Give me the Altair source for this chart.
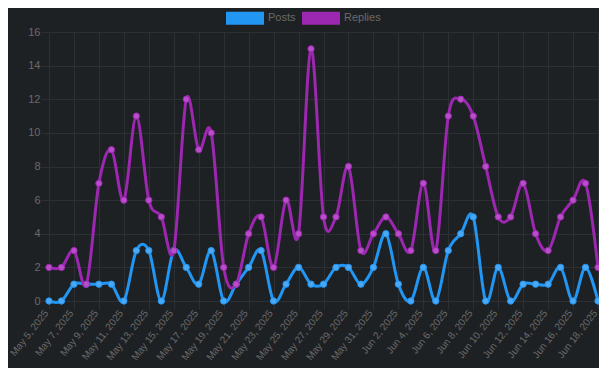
import altair as alt
import pandas as pd
import datetime as dt

# ---- data -------------------------------------------------------------
start = dt.date(2025, 5, 5)
n_days = 45
dates = [start + dt.timedelta(days=i) for i in range(n_days)]
date_labels = [f"{d.strftime('%b')} {d.day}, {d.year}" for d in dates]

posts = [0, 0, 1, 1, 1, 1, 0, 3, 3, 0, 3, 2, 1, 3, 0,
         1, 2, 3, 0, 1, 2, 1, 1, 2, 2, 1, 2, 4, 1,
         0, 2, 0, 3, 4, 5, 0, 2, 0, 1, 1, 1, 2, 0, 2, 0]
replies = [2, 2, 3, 1, 7, 9, 6, 11, 6, 5, 3, 12, 9, 10, 2,
           1, 4, 5, 2, 6, 4, 15, 5, 5, 8, 3, 4, 5, 4,
           3, 7, 3, 11, 12, 11, 8, 5, 5, 7, 4, 3, 5, 6, 7, 2]

series_names = ["Posts", "Replies"]
line_colors = ["#2196f3", "#9c27b0"]
point_fills = ["#4aa8f5", "#b84fc9"]
tick_labels = date_labels[::2]
y_ticks = list(range(0, 17, 2))

rows = []
for lab, p, r in zip(date_labels, posts, replies):
    rows.append({"day": lab, "series": "Posts", "value": p})
    rows.append({"day": lab, "series": "Replies", "value": r})
df = pd.DataFrame(rows)

# ---- styling ----------------------------------------------------------
BG = "#1e2124"
GRID = "#2c2f33"
TEXT = "#6a6a6a"
FONT = "Liberation Sans"
FS = 11

x_enc = alt.X(
    "day:O",
    sort=date_labels,
    scale=alt.Scale(type="point", padding=0),
    axis=alt.Axis(
        title=None,
        values=tick_labels,
        labelAngle=-52,
        labelAlign="right",
        labelBaseline="middle",
        labelPadding=2,
        labelOffset=-3,
        labelFontSize=10,
        labelColor=TEXT,
        labelFont=FONT,
        grid=True,
        gridColor=GRID,
        tickColor=GRID,
        tickSize=8,
        domainColor=GRID,
    ),
)
y_enc = alt.Y(
    "value:Q",
    scale=alt.Scale(domain=[0, 16], nice=False),
    axis=alt.Axis(
        title=None,
        values=y_ticks,
        labelFontSize=FS,
        labelColor=TEXT,
        labelFont=FONT,
        labelPadding=1,
        grid=True,
        gridColor=GRID,
        tickColor=GRID,
        tickSize=8,
        domainColor=GRID,
    ),
)

layers = []
for name, lc, pf in zip(series_names, line_colors, point_fills):
    base = alt.Chart(df).transform_filter(alt.datum.series == name)
    layers.append(
        base.mark_line(interpolate="cardinal", strokeWidth=3, color=lc).encode(x=x_enc, y=y_enc)
    )
for name, lc, pf in zip(series_names, line_colors, point_fills):
    base = alt.Chart(df).transform_filter(alt.datum.series == name)
    layers.append(
        base.mark_point(filled=True, size=40, strokeWidth=1, opacity=1, fill=pf, stroke=lc).encode(
            x=x_enc, y=y_enc
        )
    )

# invisible layer only used to produce the box legend
legend_layer = alt.Chart(df).mark_point(filled=True, size=0).encode(
    x=x_enc,
    y=y_enc,
    color=alt.Color(
        "series:N",
        sort=series_names,
        scale=alt.Scale(domain=series_names, range=line_colors),
        legend=alt.Legend(
            title=None,
            orient="none",
            legendX=177,
            legendY=-33,
            direction="horizontal",
            symbolType="M-1,-0.34L1,-0.34L1,0.34L-1,0.34Z",
            symbolSize=1444,
            symbolStrokeWidth=0,
            symbolOpacity=1,
            labelColor=TEXT,
            labelFont=FONT,
            labelFontSize=FS,
            labelOffset=4,
            columnPadding=6,
            padding=0,
        ),
    ),
)
layers.append(legend_layer)

chart = (
    alt.layer(*layers)
    .properties(
        width=549,
        height=269,
        background=BG,
        padding={"left": 41, "top": 24, "right": 1, "bottom": 67},
        autosize=alt.AutoSizeParams(type="none"),
    )
    .configure_view(stroke=None)
)

chart.save("out.html", embed_options={"renderer": "svg", "actions": False})
